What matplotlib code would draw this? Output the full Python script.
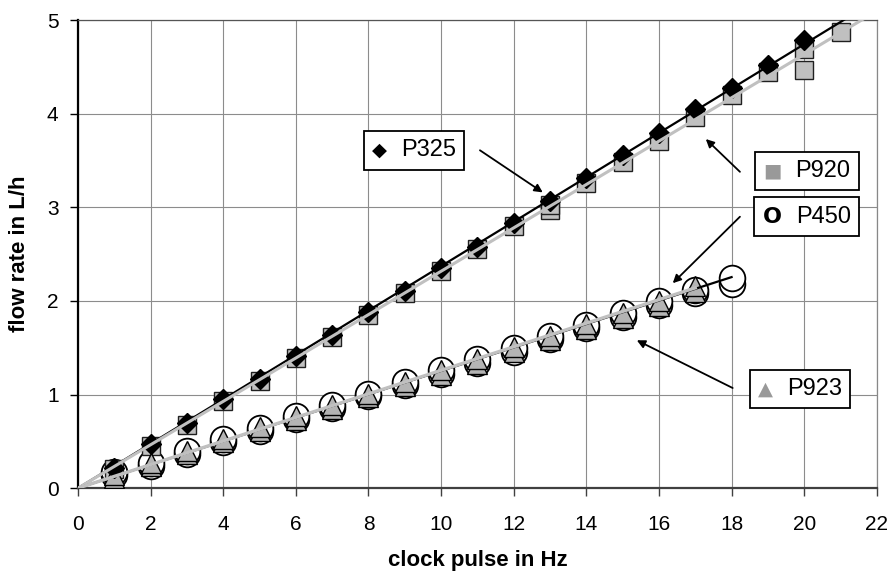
import numpy as np
import matplotlib
matplotlib.use('Agg')
import matplotlib.pyplot as plt
from matplotlib.offsetbox import TextArea, HPacker, AnnotationBbox

plt.rcParams['font.family'] = ['Liberation Sans', 'DejaVu Sans']

# P325 - black diamonds
x_p325 = [1, 2, 3, 4, 5, 6, 7, 8, 9, 10, 11, 12, 13, 14, 15, 16, 17, 18, 19, 20]
y_p325 = [0.22, 0.47, 0.70, 0.95, 1.17, 1.41, 1.64, 1.88, 2.11, 2.35,
          2.58, 2.83, 3.07, 3.31, 3.56, 3.80, 4.05, 4.28, 4.52, 4.79]

# P920 - gray squares (two readings at 13 and 20)
x_p920 = [1, 2, 3, 4, 5, 6, 7, 8, 9, 10, 11, 12, 13, 13, 14, 15, 16, 17, 18, 19, 20, 20, 21]
y_p920 = [0.20, 0.45, 0.68, 0.93, 1.15, 1.39, 1.62, 1.85, 2.09, 2.32,
          2.55, 2.80, 2.97, 3.03, 3.26, 3.49, 3.71, 3.97, 4.20, 4.45, 4.69, 4.47, 4.87]

# P450 - open circles, two runs
x_p450 = [1, 2, 3, 4, 5, 6, 7, 8, 9, 10, 11, 12, 13, 14, 15, 16, 17, 18]
y_p450_a = [0.17, 0.27, 0.40, 0.52, 0.64, 0.77, 0.89, 1.01, 1.13, 1.26,
            1.38, 1.50, 1.63, 1.74, 1.87, 2.00, 2.12, 2.25]
y_p450_b = [0.14, 0.24, 0.37, 0.49, 0.61, 0.74, 0.86, 0.98, 1.10, 1.22,
            1.34, 1.46, 1.59, 1.71, 1.83, 1.96, 2.08, 2.18]

# P923 - gray triangles, two runs
x_p923 = [1, 2, 3, 4, 5, 6, 7, 8, 9, 10, 11, 12, 13, 14, 15, 16, 17]
y_p923_a = [0.14, 0.27, 0.40, 0.52, 0.65, 0.77, 0.89, 1.01, 1.13, 1.26,
            1.38, 1.51, 1.63, 1.75, 1.87, 2.00, 2.16]
y_p923_b = [0.11, 0.24, 0.36, 0.49, 0.61, 0.73, 0.85, 0.97, 1.09, 1.21,
            1.33, 1.46, 1.58, 1.70, 1.82, 1.95, 2.10]

x_ticks = list(range(0, 23, 2))
y_ticks = [0, 1, 2, 3, 4, 5]


def slope0(x, y):
    # trend line forced through the origin
    x = np.asarray(x, float)
    y = np.asarray(y, float)
    return (x * y).sum() / (x * x).sum()


fig = plt.figure(figsize=(8.92, 5.77), dpi=100)
ax = fig.add_axes([0.0874, 0.154, 0.8956, 0.811])

light = '#c0c0c0'

# lower group
ax.plot(x_p450, y_p450_b, 'o', ms=18.5, mfc='white', mec='black', mew=1.3, zorder=3)
ax.plot(x_p450, y_p450_a, 'o', ms=18.5, mfc='white', mec='black', mew=1.3, zorder=3)
ax.plot(x_p923, y_p923_b, '^', ms=14, mfc='#b4b4b4', mec='black', mew=1.0, zorder=4)
ax.plot(x_p923, y_p923_a, '^', ms=14, mfc='#b4b4b4', mec='black', mew=1.0, zorder=4)

# upper group
ax.plot(x_p920, y_p920, 's', ms=13.5, mfc=light, mec='#202020', mew=1.0, zorder=3)
ax.plot(x_p325, y_p325, 'D', ms=10, mfc='black', mec='black', zorder=4)

# trend lines
xs = np.array([0, 22])
ax.plot(xs, slope0(x_p325, y_p325) * xs, color='black', lw=1.6, zorder=5)
ax.plot(xs, slope0(x_p920, y_p920) * xs, color=light, lw=2.2, zorder=5)
xl = np.array([0, 18])
ax.plot(xl, slope0(x_p450, y_p450_a) * xl, color='black', lw=1.6, zorder=5)
xt = np.array([0, 17])
ax.plot(xt, slope0(x_p923, y_p923_a) * xt, color=light, lw=2.4, zorder=6)

ax.set_xlim(0, 22)
ax.set_ylim(0, 5)
ax.set_xticks(x_ticks)
ax.set_yticks(y_ticks)
ax.grid(True, color='#8c8c8c', lw=0.8)
ax.set_axisbelow(True)

ax.spines['left'].set_linewidth(1.6)
ax.spines['left'].set_color('black')
ax.spines['bottom'].set_linewidth(1.6)
ax.spines['bottom'].set_color('#404040')
ax.spines['top'].set_linewidth(0.9)
ax.spines['top'].set_color('#555555')
ax.spines['right'].set_linewidth(0.9)
ax.spines['right'].set_color('#888888')

ax.tick_params(axis='both', direction='out', length=6, width=1.0, labelsize=15)
ax.tick_params(axis='x', pad=13, colors='#404040', labelcolor='black')
ax.tick_params(axis='y', pad=8)

ax.set_xlabel('clock pulse in Hz', fontsize=16, fontweight='bold', labelpad=12)
ax.set_ylabel('flow rate in L/h', fontsize=16, fontweight='bold', labelpad=12)


def label_box(glyph, gcolor, gweight, text, center, start, tip):
    ax.annotate('', xy=tip, xytext=start,
                arrowprops=dict(arrowstyle='-|>', color='black', lw=1.3,
                                mutation_scale=12, shrinkA=0, shrinkB=0),
                zorder=7)
    g = TextArea(glyph, textprops=dict(family=['DejaVu Sans'], size=14 if glyph != 'O' else 16,
                                       color=gcolor, fontweight=gweight))
    t = TextArea(text, textprops=dict(size=17, color='black'))
    pack = HPacker(children=[g, t], align='center', pad=0, sep=10)
    ab = AnnotationBbox(pack, center, xycoords='data', box_alignment=(0.5, 0.5),
                        pad=0.6, frameon=True,
                        bboxprops=dict(edgecolor='black', facecolor='white', linewidth=1.3))
    ab.set_zorder(8)
    ax.add_artist(ab)


label_box('◆', 'black', 'normal', 'P325', (9.25, 3.61), (11.07, 3.61), (12.8, 3.16))
label_box('■', '#999999', 'normal', 'P920', (20.07, 3.39), (18.23, 3.38), (17.29, 3.73))
label_box('O', 'black', 'bold', 'P450', (20.07, 2.90), (18.23, 2.90), (16.38, 2.19))
label_box('▲', '#999999', 'normal', 'P923', (19.88, 1.06), (18.03, 1.07), (15.39, 1.58))

fig.savefig('out.png', dpi=100)
